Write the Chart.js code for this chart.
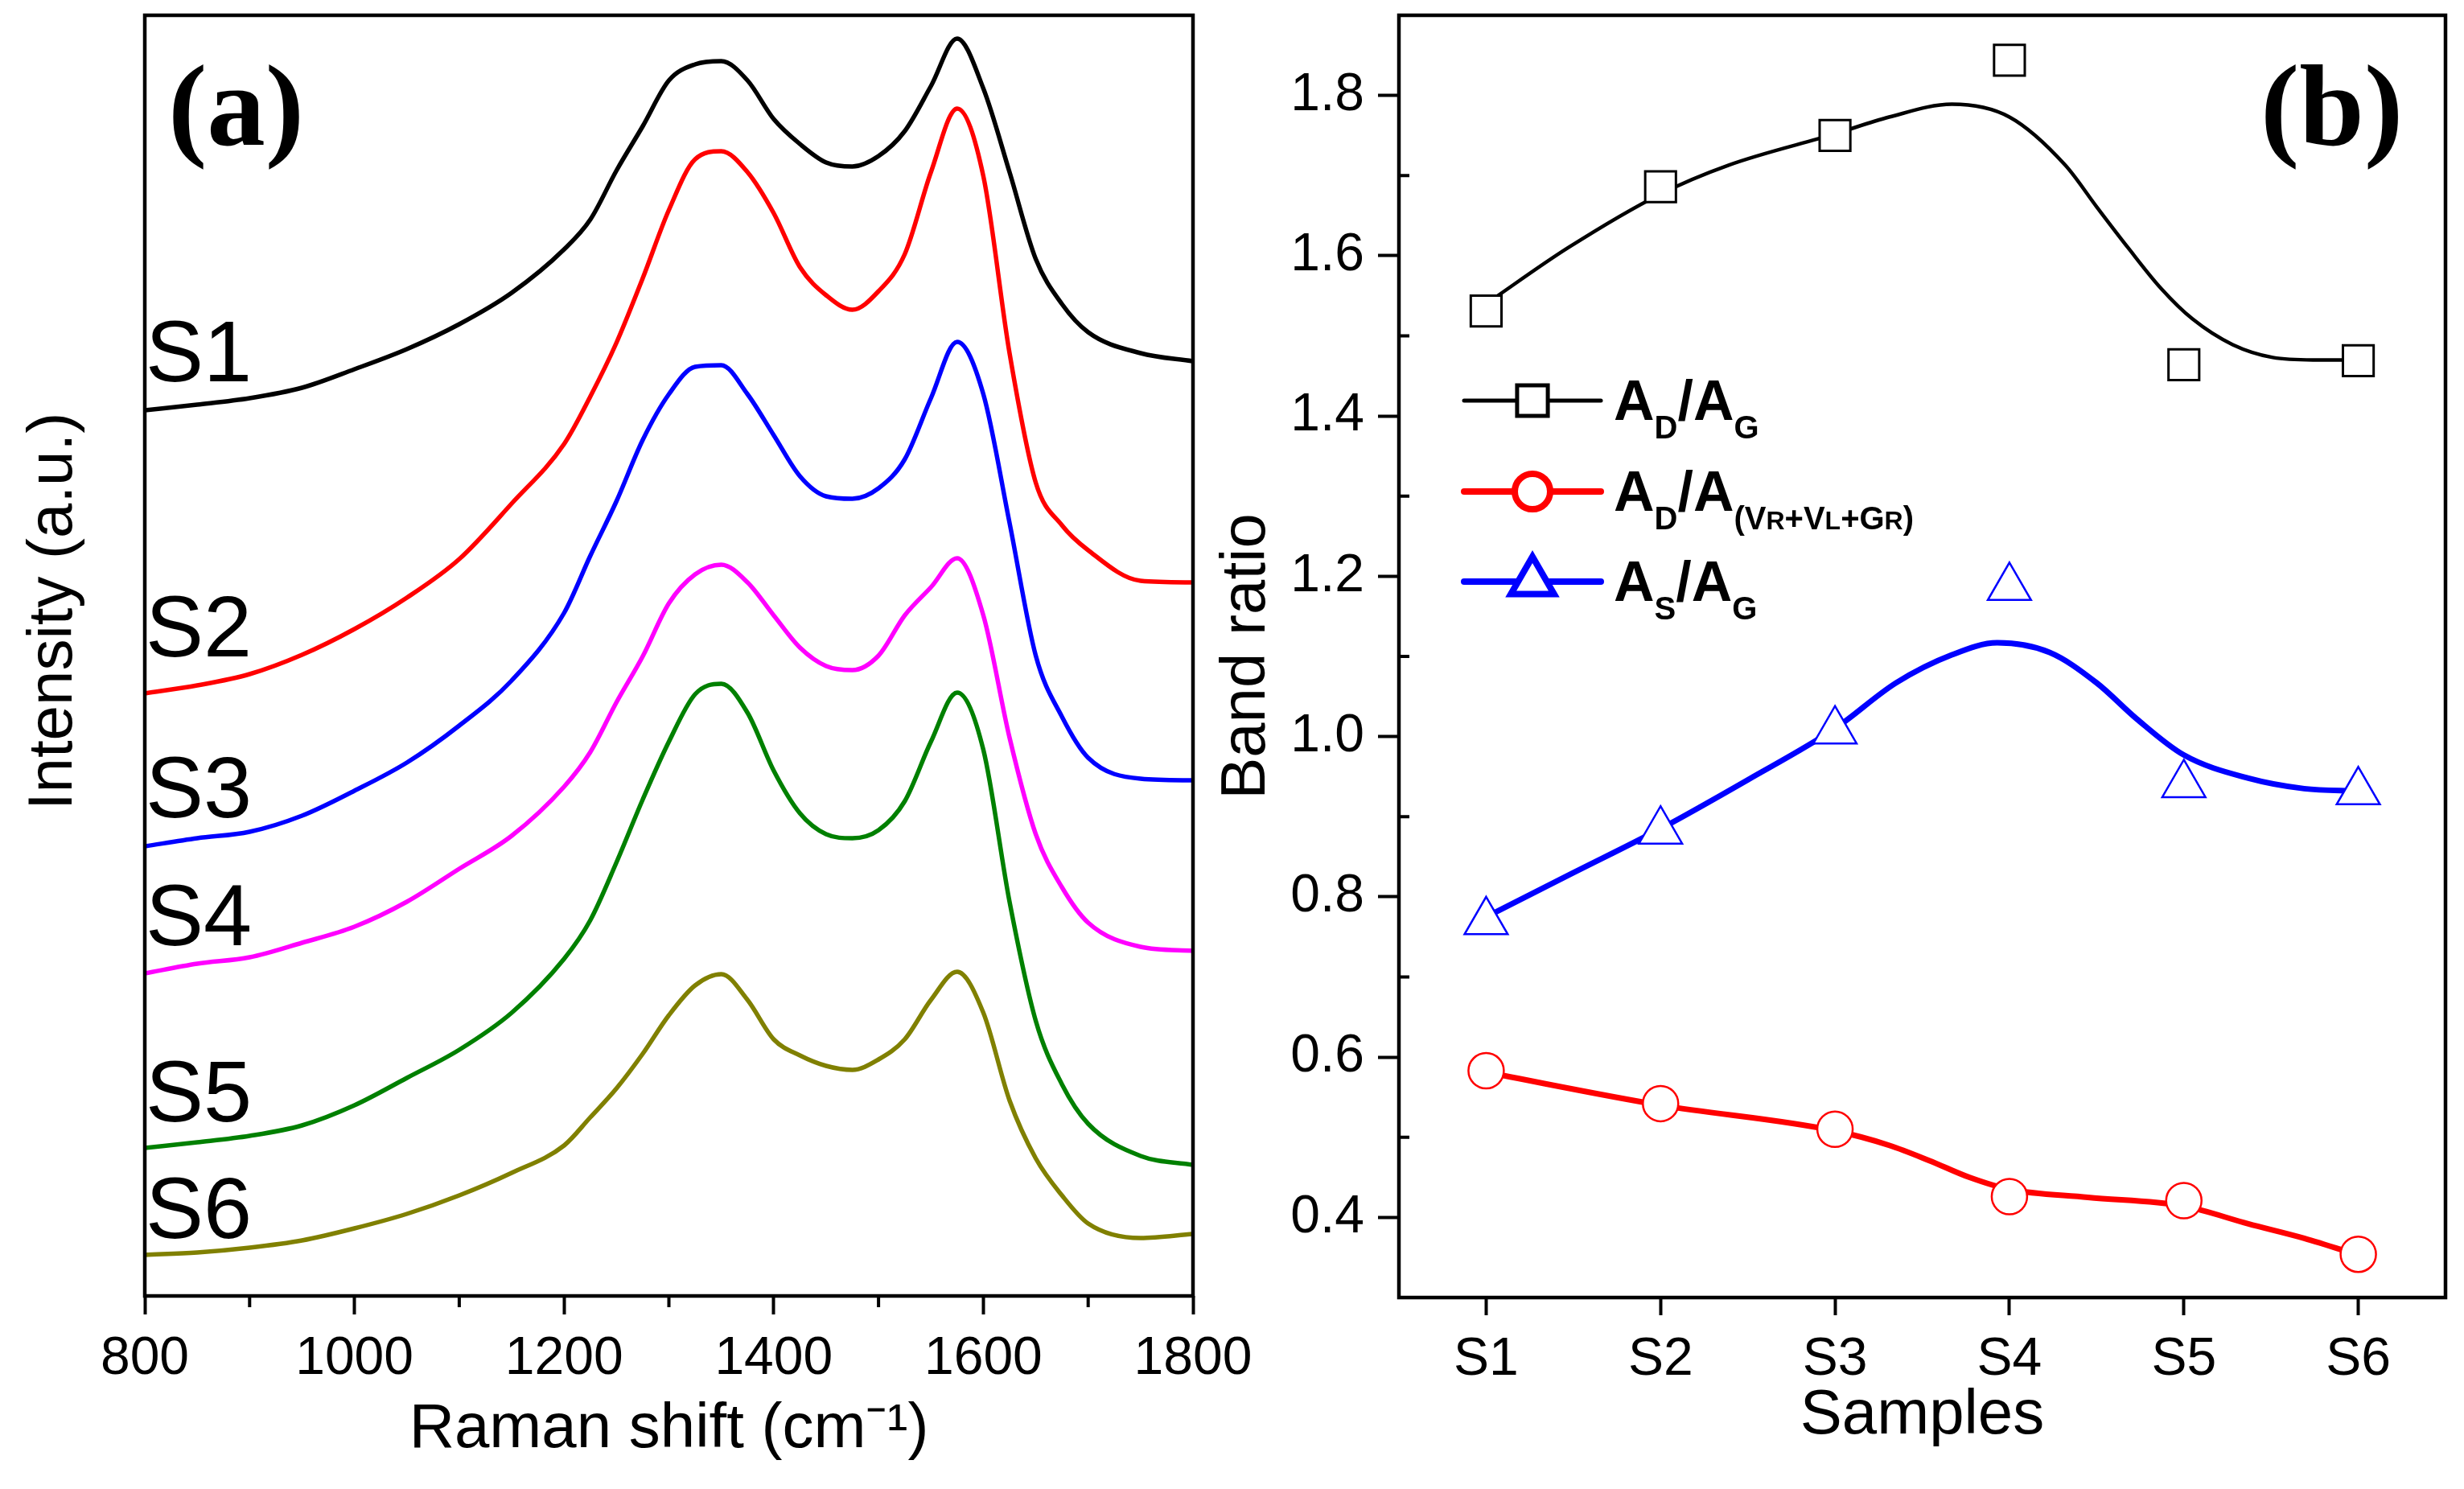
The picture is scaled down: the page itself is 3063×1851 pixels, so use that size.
<!DOCTYPE html>
<html><head><meta charset="utf-8">
<script src="https://cdn.jsdelivr.net/npm/chart.js"></script>
<style>
html,body{margin:0;padding:0;background:#fff;width:3063px;height:1851px;overflow:hidden;}
#wrap{position:relative;width:3063px;height:1851px;background:#fff;}
canvas{position:absolute;top:0;}
#ca{left:0;}
#cb{left:1500px;}
</style></head><body>
<div id="wrap">
<canvas id="ca" width="1600" height="1851" style="width:1600px;height:1851px"></canvas>
<canvas id="cb" width="1563" height="1851" style="width:1563px;height:1851px"></canvas>
</div>
<script>
// ---------- Panel (a): Raman spectra (intensity, a.u.) ----------
const wavenumbers = [800,850,900,950,1000,1050,1100,1150,1200,1225,1250,1275,1300,1325,1350,1375,1400,1425,1450,1475,1500,1525,1550,1575,1600,1625,1650,1675,1700,1750,1800];
const specS1 = [110.1,110.8,111.6,112.9,115.2,117.7,120.8,124.7,130.1,133.8,139.9,145.4,151.1,153.1,153.5,151.1,146.3,143.2,140.9,140.4,141.7,144.8,150.4,156.3,150.1,139.7,128.9,123.3,119.8,117.2,116.2];
const specS2 = [74.9,75.9,77.3,79.7,82.9,86.8,91.6,98.5,105.9,111.8,118.5,126.5,135.0,141.3,142.3,139.7,134.6,127.9,124.4,122.6,124.9,129.5,139.7,147.6,139.2,117.2,101.1,95.8,92.7,88.9,88.7];
const specS3 = [55.9,56.9,57.7,59.7,62.8,66.3,70.9,76.5,84.9,92.0,98.8,106.4,112.1,115.5,115.7,112.1,107.0,101.9,99.4,99.1,100.4,104.0,111.6,118.6,112.1,96.1,79.6,72.0,66.9,64.3,64.1];
const specS4 = [40.1,41.3,42.1,43.9,45.9,49.0,53.1,57.2,63.3,67.6,73.8,79.5,86.1,89.7,90.9,88.7,84.6,80.6,78.3,77.8,79.6,84.6,88.1,91.7,84.6,69.4,57.4,50.8,46.4,43.4,42.9];
const specS5 = [18.4,19.1,19.9,21.2,23.7,27.1,30.6,35.2,41.9,46.7,53.9,61.7,68.9,74.8,76.1,72.5,65.3,60.0,57.4,56.9,57.9,61.5,68.9,75.0,67.9,49.0,34.2,26.3,21.4,17.4,16.3];
const specS6 = [5.1,5.4,6.0,6.9,8.4,10.2,12.5,15.3,18.7,22.2,25.8,30.1,34.9,38.6,40.0,36.8,31.9,29.9,28.6,28.1,29.4,31.9,36.8,40.3,35.2,24.3,17.1,12.5,9.0,7.2,7.7];
const sampleNames = ['S1','S2','S3','S4','S5','S6'];
const xTicksA = [800,1000,1200,1400,1600,1800];
const xMinorA = [900,1100,1300,1500,1700];

// ---------- Panel (b): band ratios ----------
const samples = ['S1','S2','S3','S4','S5','S6'];
const sampleIdx = [1,2,3,4,5,6];
const ratioADAG = [1.531,1.686,1.750,1.844,1.464,1.469];
const ratioADAVG = [0.583,0.542,0.510,0.426,0.421,0.354];
const ratioASAG = [0.769,0.882,1.007,1.186,0.940,0.931];
// smoothed fit curves as drawn in the figure
const fitXADAG = [1.0,1.47,2.0,2.39,3.0,3.31,3.67,4.0,4.32,4.5,4.68,4.87,5.05,5.28,5.51,5.74,6.0];
const fitYADAG = [1.540,1.610,1.677,1.713,1.752,1.773,1.789,1.773,1.713,1.661,1.610,1.559,1.521,1.489,1.473,1.470,1.470];
const fitXASAG = [1.0,1.5,2.0,2.5,3.0,3.35,3.67,3.93,4.23,4.5,4.73,5.0,5.37,5.69,6.0];
const fitYASAG = [0.775,0.830,0.885,0.946,1.010,1.067,1.102,1.117,1.105,1.067,1.022,0.977,0.948,0.935,0.932];
const fitXADAVG = [1.0,2.0,3.0,3.31,3.54,3.77,4.0,4.45,5.0,5.37,5.69,6.0];
const fitYADAVG = [0.581,0.540,0.508,0.490,0.471,0.450,0.435,0.425,0.414,0.392,0.374,0.353];
const yTicksB = [0.4,0.6,0.8,1.0,1.2,1.4,1.6,1.8];
const yMinorB = [0.5,0.7,0.9,1.1,1.3,1.5,1.7];

Chart.defaults.font.family = '"Liberation Sans", Arial, sans-serif';
Chart.defaults.color = '#000';

const SANS = '"Liberation Sans", Arial, sans-serif';
const seriesA = [specS1,specS2,specS3,specS4,specS5,specS6];
const colorsA = ['#000000','#ff0000','#0000ff','#ff00ff','#008000','#808000'];
const labelLift = [36,46,36,35,33,21];

const panelA = {
  id:'panelA',
  afterDatasetsDraw(chart){
    const {ctx, chartArea:a, scales:{x,y}} = chart;
    ctx.save();
    ctx.strokeStyle='#000'; ctx.lineWidth=4.5;
    ctx.strokeRect(a.left, a.top, a.right-a.left, a.bottom-a.top);
    ctx.lineWidth=4;
    ctx.beginPath();
    xMinorA.forEach(v=>{const px=x.getPixelForValue(v); ctx.moveTo(px,a.bottom); ctx.lineTo(px,a.bottom+14);});
    ctx.stroke();
    ctx.fillStyle='#000';
    ctx.font='108px '+SANS; ctx.textAlign='left'; ctx.textBaseline='alphabetic';
    seriesA.forEach((s,i)=>{ ctx.fillText(sampleNames[i], a.left+1, y.getPixelForValue(s[0]) - labelLift[i]); });
    ctx.font='bold 145px "Liberation Serif", "Times New Roman", serif';
    ctx.fillText('(a)', a.left+29, 180);
    ctx.translate(89, 760); ctx.rotate(-Math.PI/2);
    ctx.font='78px '+SANS; ctx.textAlign='center';
    ctx.fillText('Intensity (a.u.)', 0, 0);
    ctx.restore();
  }
};

new Chart(document.getElementById('ca'), {
  type:'line',
  data:{ datasets: seriesA.map((s,i)=>({
    label: sampleNames[i],
    data: wavenumbers.map((w,j)=>({x:w, y:s[j]})),
    borderColor: colorsA[i], borderWidth:5.5, pointRadius:0,
    cubicInterpolationMode:'monotone', fill:false
  }))},
  options:{
    responsive:false, devicePixelRatio:1, animation:false,
    layout:{autoPadding:false, padding:{left:0,right:117,top:19,bottom:0}},
    plugins:{legend:{display:false}, tooltip:{enabled:false}},
    scales:{
      x:{type:'linear', min:800, max:1800,
        afterBuildTicks: s=>{ s.ticks = xTicksA.map(v=>({value:v})); },
        afterFit: s=>{ s.height=240; s.paddingLeft=0; s.paddingRight=0; },
        ticks:{autoSkip:false, maxRotation:0, minRotation:0, padding:16, color:'#000', font:{size:66}, callback:v=>String(v)},
        grid:{display:true, drawOnChartArea:false, drawTicks:true, tickLength:23, tickWidth:4, tickColor:'#000'},
        border:{display:false},
        title:{display:true, text:'Raman shift (cm⁻¹)', color:'#000', font:{size:78}, padding:{top:0,bottom:27}}
      },
      y:{type:'linear', min:0, max:159.2,
        afterFit: s=>{ s.width=180; s.paddingTop=0; s.paddingBottom=0; },
        ticks:{display:false}, grid:{display:false}, border:{display:false}}
    }
  },
  plugins:[panelA]
});

// ---------- Panel (b) ----------
const legendRows = [
  {color:'#000000', style:'rect', radius:27, lw:5, pw:3, parts:[['A',70,0],['D',40,23],['/',70,0],['A',70,0],['G',40,23]]},
  {color:'#ff0000', style:'circle', radius:22, lw:8, pw:2.5, parts:[['A',70,0],['D',40,23],['/',70,0],['A',70,0],['(V',40,23],['R',32,23],['+V',40,23],['L',32,23],['+G',40,23],['R',32,23],[')',40,23]]},
  {color:'#0000ff', style:'triangle', radius:31, lw:8, pw:2.5, parts:[['A',70,0],['S',40,23],['/',70,0],['A',70,0],['G',40,23]]}
];

const panelB = {
  id:'panelB',
  afterDatasetsDraw(chart){
    const {ctx, chartArea:a, scales:{y}} = chart;
    ctx.save();
    ctx.strokeStyle='#000'; ctx.lineWidth=4.5;
    ctx.strokeRect(a.left, a.top, a.right-a.left, a.bottom-a.top);
    ctx.lineWidth=4;
    ctx.beginPath();
    yMinorB.forEach(v=>{const py=y.getPixelForValue(v); ctx.moveTo(a.left,py); ctx.lineTo(a.left+13,py);});
    ctx.stroke();
    // legend
    const rowY = [498,611,723];
    legendRows.forEach((r,i)=>{
      const cy=rowY[i];
      ctx.strokeStyle=r.color; ctx.lineWidth=r.lw; ctx.lineCap='round';
      ctx.beginPath(); ctx.moveTo(a.left+81,cy); ctx.lineTo(a.left+251,cy); ctx.stroke();
      ctx.lineCap='butt';
      ctx.fillStyle='#fff'; ctx.strokeStyle=r.color;
      Chart.helpers.drawPoint(ctx,{pointStyle:r.style, radius:r.radius, borderWidth:r.pw, rotation:0}, a.left+166, cy);
      let tx=a.left+267; const base=cy+24;
      ctx.fillStyle='#000'; ctx.textAlign='left'; ctx.textBaseline='alphabetic';
      r.parts.forEach(p=>{
        ctx.font='bold '+p[1]+'px '+SANS;
        ctx.fillText(p[0], tx, base+p[2]);
        tx += ctx.measureText(p[0]).width;
      });
    });
    ctx.fillStyle='#000';
    ctx.font='bold 145px "Liberation Serif", "Times New Roman", serif';
    ctx.textAlign='left';
    ctx.fillText('(b)', a.left+1071, 180);
    ctx.restore();
  }
};

function pts(xs, ys){ return xs.map((v,i)=>({x:v, y:ys[i]})); }

new Chart(document.getElementById('cb'), {
  type:'line',
  data:{ datasets:[
    {label:'fit AD/AG', data:pts(fitXADAG,fitYADAG), borderColor:'#000', borderWidth:4.5, pointRadius:0, cubicInterpolationMode:'monotone', order:3},
    {label:'fit AD/A(VR+VL+GR)', data:pts(fitXADAVG,fitYADAVG), borderColor:'#ff0000', borderWidth:7, pointRadius:0, cubicInterpolationMode:'monotone', order:3},
    {label:'fit AS/AG', data:pts(fitXASAG,fitYASAG), borderColor:'#0000ff', borderWidth:7, pointRadius:0, cubicInterpolationMode:'monotone', order:3},
    {label:'AD/AG', data:pts(sampleIdx,ratioADAG), showLine:false, pointStyle:'rect', pointRadius:27, pointBorderWidth:3, pointBorderColor:'#000', pointBackgroundColor:'#fff', borderColor:'#000', order:1},
    {label:'AD/A(VR+VL+GR)', data:pts(sampleIdx,ratioADAVG), showLine:false, pointStyle:'circle', pointRadius:22, pointBorderWidth:2.5, pointBorderColor:'#ff0000', pointBackgroundColor:'#fff', borderColor:'#ff0000', order:1},
    {label:'AS/AG', data:pts(sampleIdx,ratioASAG), showLine:false, pointStyle:'triangle', pointRadius:31, pointBorderWidth:2.5, pointBorderColor:'#0000ff', pointBackgroundColor:'#fff', borderColor:'#0000ff', order:1}
  ]},
  options:{
    responsive:false, devicePixelRatio:1, animation:false,
    layout:{autoPadding:false, padding:{left:0,right:23,top:19,bottom:0}},
    plugins:{legend:{display:false}, tooltip:{enabled:false}},
    scales:{
      x:{type:'linear', min:0.5, max:6.5,
        afterBuildTicks: s=>{ s.ticks = sampleIdx.map(v=>({value:v})); },
        afterFit: s=>{ s.height=238; s.paddingLeft=0; s.paddingRight=0; },
        ticks:{autoSkip:false, maxRotation:0, minRotation:0, padding:16, color:'#000', font:{size:66}, callback:v=>samples[Math.round(v)-1]},
        grid:{display:true, drawOnChartArea:false, drawTicks:true, tickLength:22, tickWidth:4, tickColor:'#000'},
        border:{display:false},
        title:{display:true, text:'Samples', color:'#000', font:{size:78}, padding:{top:0,bottom:44}}
      },
      y:{type:'linear', min:0.3, max:1.9,
        afterBuildTicks: s=>{ s.ticks = yTicksB.map(v=>({value:v})); },
        afterFit: s=>{ s.width=239; s.paddingTop=0; s.paddingBottom=0; },
        ticks:{padding:17, color:'#000', font:{size:66}, callback:v=>Number(v).toFixed(1)},
        grid:{display:true, drawOnChartArea:false, drawTicks:true, tickLength:26, tickWidth:4, tickColor:'#000'},
        border:{display:false},
        title:{display:true, text:'Band ratio', color:'#000', font:{size:78}, padding:{top:4,bottom:0}}
      }
    }
  },
  plugins:[panelB]
});
</script>
</body></html>
